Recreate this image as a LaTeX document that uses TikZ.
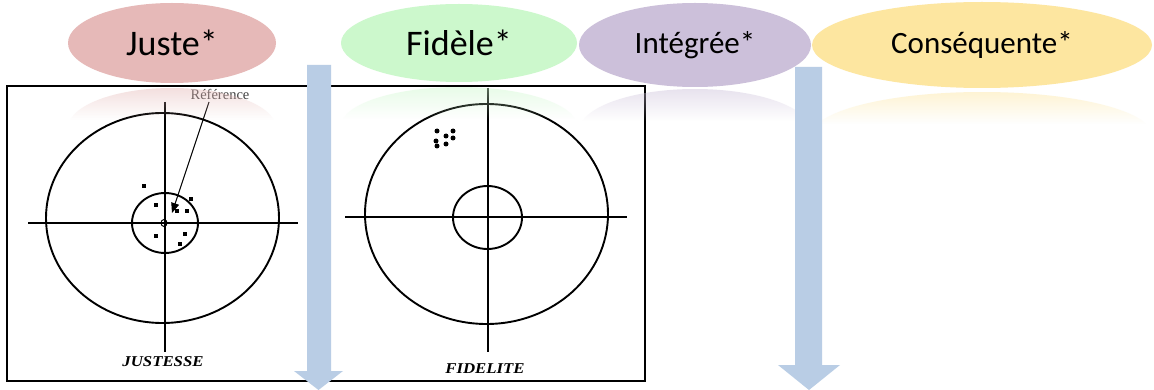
\documentclass[tikz,border=0pt]{standalone}
\usepackage{fontspec}
\setmainfont{Carlito}
\newfontfamily\tnr{Liberation Serif}
\usetikzlibrary{shapes.geometric,arrows.meta,fadings}
\definecolor{cjuste}{HTML}{E6B9B8}
\definecolor{cfidele}{HTML}{CCF8CC}
\definecolor{cinteg}{HTML}{CCC0DA}
\definecolor{cconseq}{HTML}{FDE6A0}
\definecolor{cblue}{HTML}{B9CDE5}
\tikzfading[name=fadedown, top color=transparent!0, bottom color=transparent!100]
\tikzset{
  bubble/.style={ellipse, inner sep=0pt, text=black},
  refl/.style={path fading=fadedown, fill opacity=0.45},
  targetline/.style={line width=1.9pt, black},
  blockarrow/.style={fill=cblue, draw=none},
  dotsq/.style={fill=black, minimum size=4.2pt, inner sep=0pt, rectangle},
  dotrd/.style={fill=black, minimum size=5pt, inner sep=0pt, circle},
  caption/.style={font=\tnr\fontsize{15}{15}\selectfont\bfseries\itshape, inner sep=0pt},
}
\newcommand{\reflection}[5]{% color, cx, top, rx, ry
  \begin{scope}
    \clip (#2,#3+#5) ellipse [x radius=#4, y radius=#5];
    \fill[#1, refl] (#2-#4,#3) rectangle (#2+#4,#3+32);
  \end{scope}}
\begin{document}
\begin{tikzpicture}[x=1pt,y=-1pt]
\useasboundingbox (0,0) rectangle (1154,390);
\fill[white] (0,0) rectangle (1154,390);

% ---- frame with the two targets
\draw[line width=1.5pt] (7,86) rectangle (645,381);

% left target: JUSTESSE
\draw[targetline] (162.5,218) ellipse [x radius=116.5, y radius=105];
\draw[targetline] (28,223) -- (298,223);
\draw[targetline] (165,102) -- (165,352);
\draw[targetline] (165,223) ellipse [x radius=33, y radius=30];
\draw[line width=1pt] (164,223) ellipse [x radius=3, y radius=3.5];
\foreach \p [count=\i] in {(144,186),(156,205),(191,199),(177,211),(187,211),(156,236),(185,234),(180,244)}
  \node[dotsq] (jd\i) at \p {};
\node[inner sep=0pt, text=black!75, font=\tnr\fontsize{14.5}{14.5}\selectfont] (ref) at (220,94) {Référence};
\coordinate (refstart) at (209,102);
\coordinate (refpt) at (172,213);
\draw[line width=1.1pt, -{Triangle[length=10pt,width=8pt]}] (refstart) -- (refpt);
\node[caption] (justesse) at (163,362) {\scalebox{1.12}[1]{JUSTESSE}};

% right target: FIDELITE
\draw[targetline] (486.5,214) ellipse [x radius=121.5, y radius=110];
\draw[targetline] (345,217) -- (627,217);
\draw[targetline] (488,88) -- (488,352);
\draw[targetline] (487.5,217.5) ellipse [x radius=34.5, y radius=31.5];
\foreach \p [count=\i] in {(437,131),(453,131),(446,136),(436,141),(453,138),(437,146),(446,144)}
  \node[dotrd] (fd\i) at \p {};
\node[caption] (fidelite) at (485,369) {\scalebox{1.12}[1]{FIDELITE}};

% ---- reflections
\reflection{cjuste}{172}{88}{104}{40}
\reflection{cfidele}{459}{87}{118}{39}
\reflection{cinteg}{695}{89}{116}{42}
\reflection{cconseq}{982}{92}{170}{43}

% ---- bubbles
\node[bubble, fill=cjuste, minimum width=208pt, minimum height=80pt, font=\fontsize{36}{36}\selectfont] (juste) at (172,43) {Juste*};
\node[bubble, fill=cfidele, minimum width=236pt, minimum height=78pt, font=\fontsize{36}{36}\selectfont] (fidele) at (459,43) {Fidèle*};
\node[bubble, fill=cinteg, minimum width=232pt, minimum height=84pt, font=\fontsize{31}{31}\selectfont] (integ) at (695,45) {Intégrée*};
\node[bubble, fill=cconseq, minimum width=340pt, minimum height=86pt, font=\fontsize{31}{31}\selectfont] (conseq) at (982,45) {Conséquente*};

% ---- block arrows
\fill[blockarrow] (307,65) -- (331,65) -- (331,371) -- (343,371) -- (318.5,390) -- (294,371) -- (307,371) -- cycle;
\fill[blockarrow] (795,67) -- (822,67) -- (822,365) -- (840,365) -- (809,390) -- (778,365) -- (795,365) -- cycle;
\end{tikzpicture}
\end{document}
